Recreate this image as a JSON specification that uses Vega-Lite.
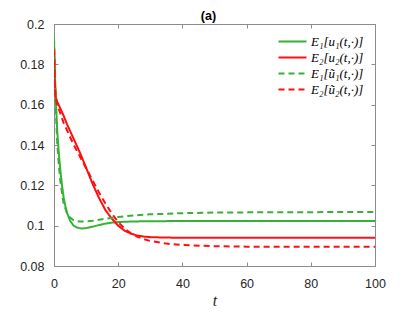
{
  "$schema": "https://vega.github.io/schema/vega-lite/v6.json",
  "autosize": "none",
  "width": 321,
  "height": 242,
  "padding": {"left": 54, "top": 24, "right": 40, "bottom": 46},
  "background": "white",
  "title": {"text": "(a)", "font": "Liberation Sans", "fontSize": 12.5, "fontWeight": "bold", "color": "#000000", "offset": -4, "dx": -6},
  "config": {
    "view": {"stroke": "#8c8c8c", "strokeWidth": 1},
    "axis": {"grid": false, "domainColor": "#8c8c8c", "tickColor": "#8c8c8c", "tickSize": -4, "labelFlush": false, "labelFont": "Liberation Sans", "labelFontSize": 12.5, "labelColor": "#262626"}
  },
  "data": {"values": [
    {"s": "E₁[u₁(t,·)]", "t": 0, "v": 0.193},
    {"s": "E₁[u₁(t,·)]", "t": 0.25, "v": 0.178},
    {"s": "E₁[u₁(t,·)]", "t": 0.5, "v": 0.165},
    {"s": "E₁[u₁(t,·)]", "t": 1, "v": 0.147},
    {"s": "E₁[u₁(t,·)]", "t": 1.5, "v": 0.136},
    {"s": "E₁[u₁(t,·)]", "t": 2, "v": 0.127},
    {"s": "E₁[u₁(t,·)]", "t": 2.5, "v": 0.12},
    {"s": "E₁[u₁(t,·)]", "t": 3, "v": 0.114},
    {"s": "E₁[u₁(t,·)]", "t": 3.5, "v": 0.11},
    {"s": "E₁[u₁(t,·)]", "t": 4, "v": 0.1066},
    {"s": "E₁[u₁(t,·)]", "t": 5, "v": 0.1025},
    {"s": "E₁[u₁(t,·)]", "t": 6, "v": 0.1002},
    {"s": "E₁[u₁(t,·)]", "t": 7, "v": 0.0992},
    {"s": "E₁[u₁(t,·)]", "t": 8, "v": 0.0987},
    {"s": "E₁[u₁(t,·)]", "t": 9, "v": 0.0986},
    {"s": "E₁[u₁(t,·)]", "t": 10, "v": 0.0988},
    {"s": "E₁[u₁(t,·)]", "t": 12, "v": 0.0995},
    {"s": "E₁[u₁(t,·)]", "t": 14, "v": 0.1003},
    {"s": "E₁[u₁(t,·)]", "t": 16, "v": 0.101},
    {"s": "E₁[u₁(t,·)]", "t": 18, "v": 0.1015},
    {"s": "E₁[u₁(t,·)]", "t": 20, "v": 0.1018},
    {"s": "E₁[u₁(t,·)]", "t": 25, "v": 0.1021},
    {"s": "E₁[u₁(t,·)]", "t": 30, "v": 0.1022},
    {"s": "E₁[u₁(t,·)]", "t": 40, "v": 0.1023},
    {"s": "E₁[u₁(t,·)]", "t": 60, "v": 0.1023},
    {"s": "E₁[u₁(t,·)]", "t": 100, "v": 0.1023},

    {"s": "E₂[u₂(t,·)]", "t": 0, "v": 0.1875},
    {"s": "E₂[u₂(t,·)]", "t": 0.25, "v": 0.172},
    {"s": "E₂[u₂(t,·)]", "t": 0.5, "v": 0.164},
    {"s": "E₂[u₂(t,·)]", "t": 1, "v": 0.1615},
    {"s": "E₂[u₂(t,·)]", "t": 2, "v": 0.158},
    {"s": "E₂[u₂(t,·)]", "t": 3, "v": 0.1545},
    {"s": "E₂[u₂(t,·)]", "t": 4, "v": 0.1505},
    {"s": "E₂[u₂(t,·)]", "t": 6, "v": 0.1435},
    {"s": "E₂[u₂(t,·)]", "t": 8, "v": 0.1365},
    {"s": "E₂[u₂(t,·)]", "t": 10, "v": 0.1288},
    {"s": "E₂[u₂(t,·)]", "t": 12, "v": 0.1208},
    {"s": "E₂[u₂(t,·)]", "t": 14, "v": 0.1138},
    {"s": "E₂[u₂(t,·)]", "t": 16, "v": 0.1078},
    {"s": "E₂[u₂(t,·)]", "t": 18, "v": 0.1035},
    {"s": "E₂[u₂(t,·)]", "t": 20, "v": 0.1},
    {"s": "E₂[u₂(t,·)]", "t": 22, "v": 0.0975},
    {"s": "E₂[u₂(t,·)]", "t": 24, "v": 0.096},
    {"s": "E₂[u₂(t,·)]", "t": 26, "v": 0.0951},
    {"s": "E₂[u₂(t,·)]", "t": 28, "v": 0.0946},
    {"s": "E₂[u₂(t,·)]", "t": 30, "v": 0.0943},
    {"s": "E₂[u₂(t,·)]", "t": 35, "v": 0.0941},
    {"s": "E₂[u₂(t,·)]", "t": 40, "v": 0.094},
    {"s": "E₂[u₂(t,·)]", "t": 100, "v": 0.094},

    {"s": "E₁[ũ₁(t,·)]", "t": 0, "v": 0.193},
    {"s": "E₁[ũ₁(t,·)]", "t": 0.25, "v": 0.175},
    {"s": "E₁[ũ₁(t,·)]", "t": 0.5, "v": 0.16},
    {"s": "E₁[ũ₁(t,·)]", "t": 1, "v": 0.141},
    {"s": "E₁[ũ₁(t,·)]", "t": 1.5, "v": 0.13},
    {"s": "E₁[ũ₁(t,·)]", "t": 2, "v": 0.122},
    {"s": "E₁[ũ₁(t,·)]", "t": 2.5, "v": 0.116},
    {"s": "E₁[ũ₁(t,·)]", "t": 3, "v": 0.111},
    {"s": "E₁[ũ₁(t,·)]", "t": 4, "v": 0.1065},
    {"s": "E₁[ũ₁(t,·)]", "t": 5, "v": 0.104},
    {"s": "E₁[ũ₁(t,·)]", "t": 6, "v": 0.1028},
    {"s": "E₁[ũ₁(t,·)]", "t": 7, "v": 0.1023},
    {"s": "E₁[ũ₁(t,·)]", "t": 8, "v": 0.1021},
    {"s": "E₁[ũ₁(t,·)]", "t": 10, "v": 0.1021},
    {"s": "E₁[ũ₁(t,·)]", "t": 12, "v": 0.1024},
    {"s": "E₁[ũ₁(t,·)]", "t": 15, "v": 0.1032},
    {"s": "E₁[ũ₁(t,·)]", "t": 20, "v": 0.1043},
    {"s": "E₁[ũ₁(t,·)]", "t": 25, "v": 0.1051},
    {"s": "E₁[ũ₁(t,·)]", "t": 30, "v": 0.1056},
    {"s": "E₁[ũ₁(t,·)]", "t": 40, "v": 0.1062},
    {"s": "E₁[ũ₁(t,·)]", "t": 50, "v": 0.1065},
    {"s": "E₁[ũ₁(t,·)]", "t": 60, "v": 0.1066},
    {"s": "E₁[ũ₁(t,·)]", "t": 80, "v": 0.1067},
    {"s": "E₁[ũ₁(t,·)]", "t": 100, "v": 0.1068},

    {"s": "E₂[ũ₂(t,·)]", "t": 0, "v": 0.1875},
    {"s": "E₂[ũ₂(t,·)]", "t": 0.25, "v": 0.171},
    {"s": "E₂[ũ₂(t,·)]", "t": 0.5, "v": 0.163},
    {"s": "E₂[ũ₂(t,·)]", "t": 1, "v": 0.16},
    {"s": "E₂[ũ₂(t,·)]", "t": 2, "v": 0.1555},
    {"s": "E₂[ũ₂(t,·)]", "t": 3, "v": 0.151},
    {"s": "E₂[ũ₂(t,·)]", "t": 4, "v": 0.1475},
    {"s": "E₂[ũ₂(t,·)]", "t": 6, "v": 0.1405},
    {"s": "E₂[ũ₂(t,·)]", "t": 8, "v": 0.1345},
    {"s": "E₂[ũ₂(t,·)]", "t": 10, "v": 0.1285},
    {"s": "E₂[ũ₂(t,·)]", "t": 12, "v": 0.1225},
    {"s": "E₂[ũ₂(t,·)]", "t": 14, "v": 0.1165},
    {"s": "E₂[ũ₂(t,·)]", "t": 16, "v": 0.111},
    {"s": "E₂[ũ₂(t,·)]", "t": 18, "v": 0.106},
    {"s": "E₂[ũ₂(t,·)]", "t": 20, "v": 0.1018},
    {"s": "E₂[ũ₂(t,·)]", "t": 22, "v": 0.0985},
    {"s": "E₂[ũ₂(t,·)]", "t": 24, "v": 0.0962},
    {"s": "E₂[ũ₂(t,·)]", "t": 26, "v": 0.0945},
    {"s": "E₂[ũ₂(t,·)]", "t": 28, "v": 0.0933},
    {"s": "E₂[ũ₂(t,·)]", "t": 30, "v": 0.0924},
    {"s": "E₂[ũ₂(t,·)]", "t": 35, "v": 0.0911},
    {"s": "E₂[ũ₂(t,·)]", "t": 40, "v": 0.0904},
    {"s": "E₂[ũ₂(t,·)]", "t": 50, "v": 0.0898},
    {"s": "E₂[ũ₂(t,·)]", "t": 60, "v": 0.0896},
    {"s": "E₂[ũ₂(t,·)]", "t": 80, "v": 0.0895},
    {"s": "E₂[ũ₂(t,·)]", "t": 100, "v": 0.0895}
  ]},
  "layer": [
    {
      "mark": {"type": "line", "strokeWidth": 2, "clip": true},
      "encoding": {
        "x": {"field": "t", "type": "quantitative", "scale": {"domain": [0, 100], "nice": false},
              "axis": {"values": [0, 20, 40, 60, 80, 100], "title": "t", "titleFont": "Liberation Serif", "titleFontStyle": "italic", "titleFontWeight": "normal", "titleFontSize": 16, "titleColor": "#262626", "labelPadding": 15, "titlePadding": 3}},
        "y": {"field": "v", "type": "quantitative", "scale": {"domain": [0.08, 0.2], "nice": false, "zero": false},
              "axis": {"values": [0.08, 0.1, 0.12, 0.14, 0.16, 0.18, 0.2], "format": ".2~f", "title": null, "labelPadding": 14}},
        "color": {"field": "s", "type": "nominal",
                  "scale": {"domain": ["E₁[u₁(t,·)]", "E₂[u₂(t,·)]", "E₁[ũ₁(t,·)]", "E₂[ũ₂(t,·)]"], "range": ["#35b235", "#ff1010", "#35b235", "#ff1010"]},
                  "legend": {"title": null, "orient": "none", "legendX": 232, "legendY": 11, "padding": 0, "symbolType": "M-2.8,0H2.8", "symbolSize": 100, "symbolStrokeWidth": 2, "labelOffset": 12, "labelFont": "Liberation Serif", "labelFontStyle": "italic", "labelFontSize": 13, "labelColor": "#000000", "rowPadding": 2, "fillColor": "white"}},
        "strokeDash": {"field": "s", "type": "nominal",
                       "scale": {"domain": ["E₁[u₁(t,·)]", "E₂[u₂(t,·)]", "E₁[ũ₁(t,·)]", "E₂[ũ₂(t,·)]"], "range": [[1, 0], [1, 0], [6, 4], [6, 4]]},
                       "legend": {"title": null}},
        "order": {"field": "t", "type": "quantitative"}
      }
    },
    {
      "mark": {"type": "line", "opacity": 0},
      "encoding": {
        "x": {"field": "t", "type": "quantitative", "axis": {"orient": "top", "values": [0, 20, 40, 60, 80, 100], "labels": false, "title": null}},
        "y": {"field": "v", "type": "quantitative", "axis": {"orient": "right", "values": [0.08, 0.1, 0.12, 0.14, 0.16, 0.18, 0.2], "labels": false, "title": null}},
        "detail": {"field": "s"}
      }
    }
  ],
  "resolve": {"axis": {"x": "independent", "y": "independent"}}
}
